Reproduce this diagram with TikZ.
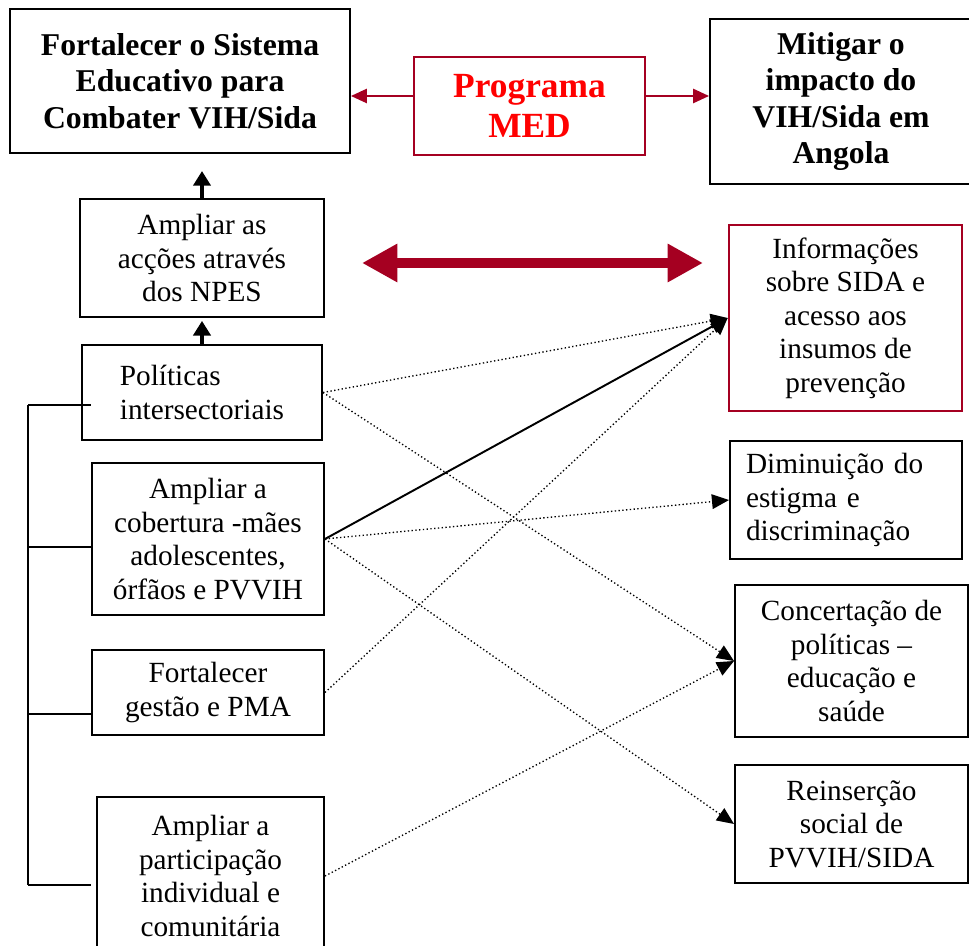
\documentclass[tikz,border=0pt]{standalone}
\usepackage{fontspec}
\setmainfont{Liberation Serif}
\usetikzlibrary{arrows.meta}
\definecolor{medred}{RGB}{165, 0, 33}
\definecolor{textred}{RGB}{255, 0, 0}
\newcommand{\px}{0.41pt}

\begin{document}
\begin{tikzpicture}[x=\px, y=-\px,
    box/.style={draw, line width=0.8pt, inner sep=0pt, align=center, font=\fontsize{12}{13.7}\selectfont},
    goalbox/.style={box, font=\fontsize{13}{15}\selectfont\bfseries},
    redbox/.style={box, draw=medred},
    link/.style={line width=0.8pt},
    tip/.style={-{Triangle[length=7pt, width=6pt]}},
    dots/.style={tip, line width=0.55pt, densely dotted},
    solidlink/.style={tip, line width=0.8pt},
    medarrow/.style={draw=medred, line width=0.8pt, -{Triangle[length=6.5pt, width=5.8pt]}, medred},
    bigarrow/.style={medred, line width=4.5pt, {Triangle[length=14.5pt, width=14.8pt]}-{Triangle[length=14.5pt, width=14.8pt]}},
    uparrow/.style={line width=1.6pt, -{Triangle[length=6pt, width=7pt]}}]
    \useasboundingbox (0,0) rectangle (969,946);

    \node[goalbox, minimum width=340*\px, minimum height=144*\px] (fort) at (180,81)    {Fortalecer o Sistema\\Educativo para\\Combater VIH/Sida};
    \node[redbox, minimum width=231*\px, minimum height=98*\px, text=textred,
          font=\fontsize{14.5}{16.4}\selectfont\bfseries]              (med)  at (529.5,106) {Programa\\MED};
    \node[goalbox, minimum width=262*\px, minimum height=165*\px] (miti) at (841,101.5) {Mitigar o\\impacto do\\VIH/Sida em\\Angola};

    \node[box, minimum width=244*\px, minimum height=118*\px]     (npes) at (202,258)   {Ampliar as\\acções através\\dos NPES};
    \node[box, align=left, minimum width=240*\px, minimum height=95*\px] (poli) at (202,392.5) {Políticas\\intersectoriais};
    \node[box, minimum width=232*\px, minimum height=152*\px]     (cob)  at (208,539)   {Ampliar a\\cobertura -mães\\adolescentes,\\órfãos e PVVIH};
    \node[box, minimum width=232*\px, minimum height=85*\px]      (gest) at (208,692.5) {Fortalecer\\gestão e PMA};
    \node[box, minimum width=227*\px, minimum height=158*\px]     (part) at (210.5,876) {Ampliar a\\participação\\individual e\\comunitária};

    \node[redbox, line width=1.1pt, minimum width=233*\px, minimum height=186*\px] (info) at (845.5,318) {Informações\\sobre SIDA e\\acesso aos\\insumos de\\prevenção};
    \node[box, align=left, text width=82pt, inner xsep=6.56pt, minimum height=118*\px] (dimi) at (846,500) {Diminuição do\\estigma e\\discriminação};
    \node[box, minimum width=233*\px, minimum height=152*\px]     (conc) at (851.5,661) {Concertação de\\políticas –\\educação e\\saúde};
    \node[box, minimum width=233*\px, minimum height=118*\px]     (rein) at (851.5,824) {Reinserção\\social de\\PVVIH/SIDA};

    \coordinate (m) at (529,96);
    \draw[medarrow] (med.west |- m) -- (fort.east |- m);
    \draw[medarrow] (med.east |- m) -- (miti.west |- m);

    \coordinate (dl) at (362,263);
    \coordinate (dr) at (703,263);
    \draw[bigarrow] (dl) -- (dr);

    \draw[uparrow, shorten >=7pt] (npes.north) -- (npes.north |- fort.south);
    \draw[uparrow, shorten >=1.2pt] (poli.north) -- (npes.south);

    \coordinate (t1) at (28,405);
    \coordinate (t2) at (28,547);
    \coordinate (t3) at (28,714);
    \coordinate (t4) at (28,885);
    \draw[link] (t1) -- (t4);
    \foreach \t in {t1,t2,t3,t4}
        \draw[link] (\t) -- (\t -| cob.west);

    \draw[dots] (poli.east) -- (info.west);
    \draw[dots] (poli.east) -- (conc.west);
    \draw[dots] (cob.east)  -- (dimi.west);
    \draw[dots] (cob.east)  -- (rein.west);
    \draw[dots] (gest.east) -- (info.west);
    \draw[dots] (part.east) -- (conc.west);
    \draw[solidlink] (cob.east) -- (info.west);
\end{tikzpicture}
\end{document}
